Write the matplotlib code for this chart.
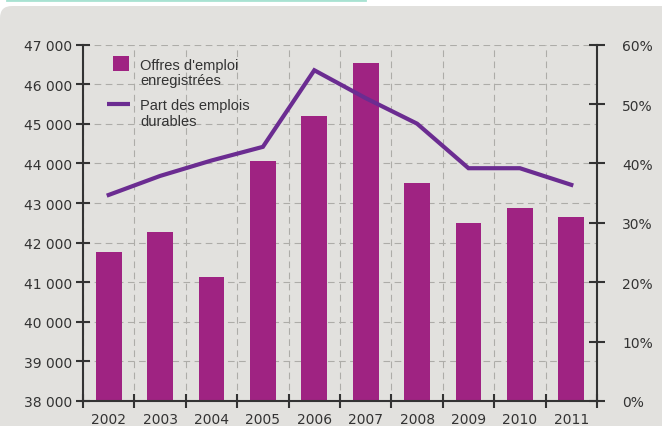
import numpy as np
import matplotlib
matplotlib.use("Agg")
import matplotlib.pyplot as plt
from matplotlib.patches import FancyBboxPatch, Rectangle
from matplotlib.lines import Line2D

# Data
years = ['2002', '2003', '2004', '2005', '2006', '2007', '2008', '2009', '2010', '2011']
offres = [41770, 42280, 41130, 44070, 45200, 46550, 43500, 42500, 42870, 42660]
part_durables = [34.7, 37.9, 40.5, 42.8, 55.7, 51.0, 46.7, 39.2, 39.2, 36.4]

label_bars = "Offres d'emploi\nenregistrées"
label_line = "Part des emplois\ndurables"

# Colours
bg = '#e2e1de'
bar_color = '#9f2382'
line_color = '#6b2c91'
grid_color = '#adaca8'
ink = '#333333'

W, H = 662, 427
fig = plt.figure(figsize=(W / 100, H / 100), dpi=100)
fig.patch.set_facecolor('white')


def px(x, y):
    # pixel position (top-left origin) -> figure fraction
    return x / W, 1 - y / H


# grey panel with rounded corner + teal strip on top
panel = FancyBboxPatch((0, -0.3), W / 100 + 1.0, (H - 7) / 100 + 0.3,
                       boxstyle='round,pad=0,rounding_size=0.12',
                       transform=fig.dpi_scale_trans, facecolor=bg,
                       edgecolor='none', zorder=-10)
fig.patches.append(panel)
fig.lines.append(Line2D([7 / W, 365 / W], [1 - 0.8 / H, 1 - 0.8 / H],
                        transform=fig.transFigure, color='#a8e2d2', lw=2, zorder=-9))

ax = fig.add_axes([83 / W, 25 / H, 514 / W, 356.3 / H])
ax.set_facecolor('none')
x = np.arange(len(years))

ax.bar(x, offres, width=0.5, color=bar_color, zorder=2)

ax.set_xlim(-0.5, len(years) - 0.5)
ax.set_ylim(38000, 47000)
ax.set_axisbelow(True)

# x axis
ax.set_xticks(x)
ax.set_xticklabels(years)
ax.set_xticks(np.arange(-0.5, len(years), 1), minor=True)
ax.tick_params(axis='x', which='major', length=0, pad=8, labelsize=10, labelcolor=ink)
ax.tick_params(axis='x', which='minor', direction='inout', length=9.5, width=1.5, color=ink)

# left y axis
yt = np.arange(38000, 47001, 1000)
ax.set_yticks(yt)
ax.set_yticklabels([f'{v:,}'.replace(',', ' ') for v in yt])
ax.tick_params(axis='y', direction='inout', length=10, width=1.5, color=ink,
               pad=3, labelsize=10, labelcolor=ink)

ax.grid(axis='y', which='major', color=grid_color, lw=0.8, ls=(0, (6, 4)))
ax.grid(axis='x', which='minor', color=grid_color, lw=0.8, ls=(0, (6, 4)))

for s in ['top', 'right']:
    ax.spines[s].set_visible(False)
for s in ['left', 'bottom']:
    ax.spines[s].set_color(ink)
    ax.spines[s].set_linewidth(1.5)

# right y axis with the share line
ax2 = ax.twinx()
ax2.plot(x, part_durables, color=line_color, lw=3, solid_joinstyle='miter', zorder=3)
ax2.set_ylim(0, 60)
ax2.set_yticks(np.arange(0, 61, 10))
ax2.set_yticklabels([f'{v}%' for v in range(0, 61, 10)])
ax2.tick_params(axis='y', direction='inout', length=11, width=1.5, color=ink,
                pad=12.5, labelsize=10, labelcolor=ink)
for s in ['top', 'left', 'bottom']:
    ax2.spines[s].set_visible(False)
ax2.spines['right'].set_color(ink)
ax2.spines['right'].set_linewidth(1.5)

# hand-made legend
x0, y0 = px(113, 72)
x1, y1 = px(129, 57)
fig.patches.append(Rectangle((x0, y0), x1 - x0, y1 - y0, transform=fig.transFigure,
                             facecolor=bar_color, edgecolor='none', zorder=5))
lx0, ly = px(107, 105)
lx1, _ = px(130, 105)
fig.lines.append(Line2D([lx0, lx1], [ly, ly], transform=fig.transFigure,
                        color=line_color, lw=3, solid_capstyle='butt', zorder=5))

for i, line in enumerate(label_bars.split('\n')):
    tx, ty = px(140, 66 + 15.5 * i)
    fig.text(tx, ty, line, fontsize=10.5, color=ink, va='center', ha='left',
             family='Liberation Sans')
for i, line in enumerate(label_line.split('\n')):
    tx, ty = px(140, 106 + 15.5 * i)
    fig.text(tx, ty, line, fontsize=10.5, color=ink, va='center', ha='left',
             family='Liberation Sans')

fig.savefig('out.png', dpi=100, facecolor=fig.get_facecolor())
